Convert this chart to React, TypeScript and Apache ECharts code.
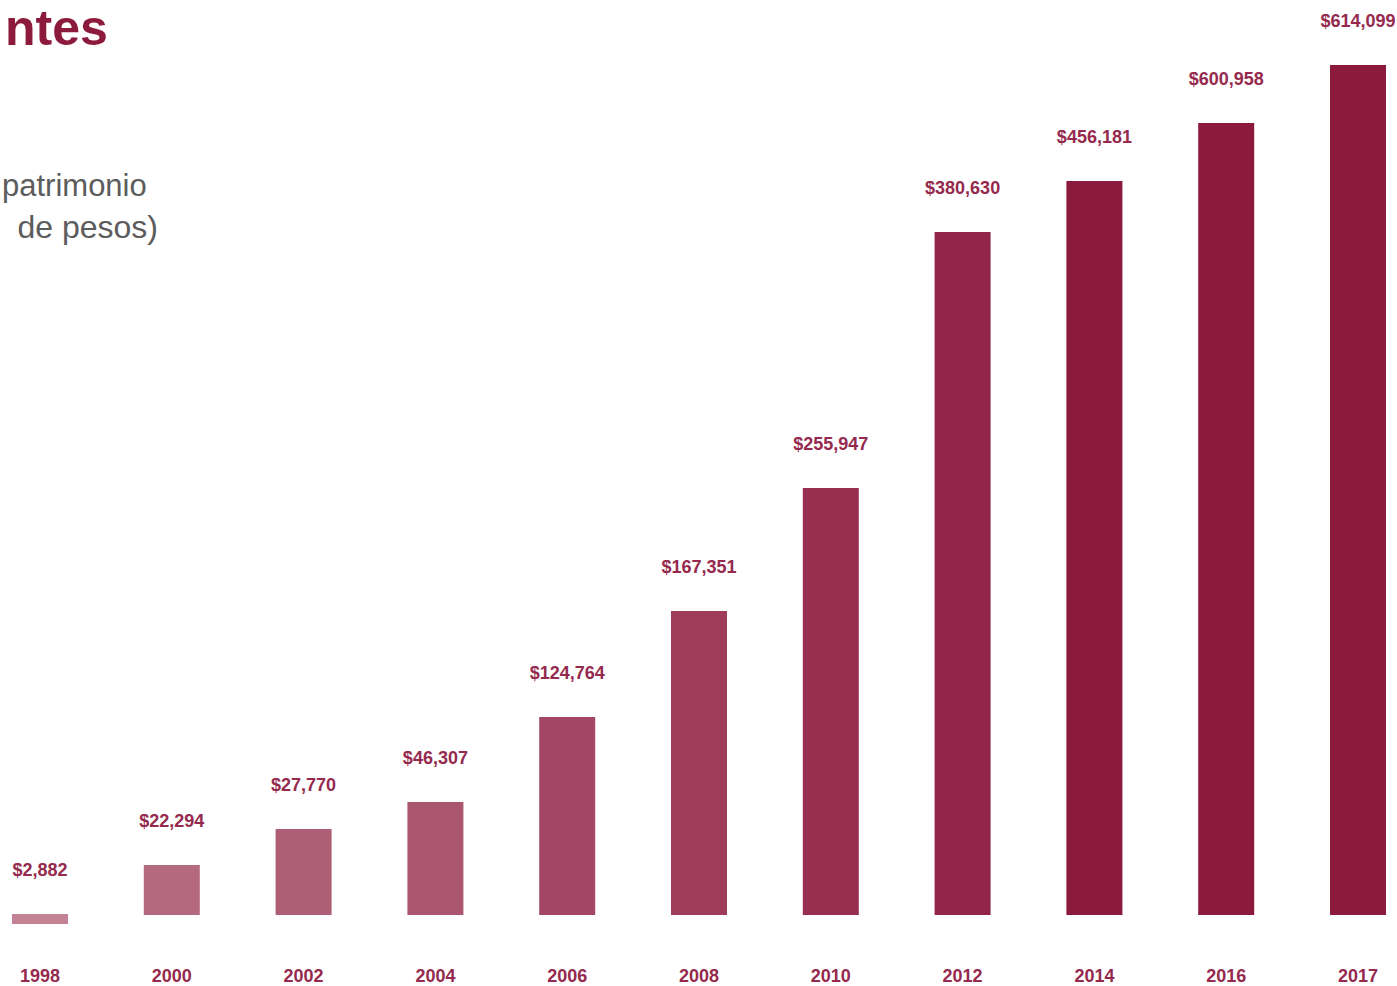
import React, { useEffect, useRef } from "react";
import * as echarts from "echarts";

// Categories (years)
const years = ["1998", "2000", "2002", "2004", "2006", "2008", "2010", "2012", "2014", "2016", "2017"];
// Printed values (millones de pesos)
const patrimonio = [2882, 22294, 27770, 46307, 124764, 167351, 255947, 380630, 456181, 600958, 614099];
// Bar lengths as drawn in the picture (not to scale with the printed values)
const barLength = [10, 50, 86, 113, 198, 304, 427, 683, 734, 792, 850];
// Offset of each bar's foot above the lowest drawn point
const barBase = [0, 9, 9, 9, 9, 9, 9, 9, 9, 9, 9];
const barColors = [
  "#c48394", "#b5697e", "#ae5f76", "#a9566e", "#a34666", "#9e3c5a",
  "#992f50", "#94254a", "#8c1a3c", "#8c1a3c", "#8c1a3c",
];

const LABEL_COLOR = "#952a4e";
const SANS = "'Liberation Sans', Arial, sans-serif";

export default function App() {
  const ref = useRef<HTMLDivElement>(null);

  useEffect(() => {
    if (!ref.current) return;
    const chart = echarts.init(ref.current, undefined, { renderer: "svg" });
    const maxVal = Math.max(...barLength.map((v, i) => v + barBase[i]));
    chart.setOption({
      animation: false,
      backgroundColor: "#ffffff",
      grid: { left: 40, right: 39, top: 65, bottom: 62, outerBoundsMode: "none" },
      xAxis: {
        type: "category",
        data: years,
        boundaryGap: false,
        axisLine: { show: false },
        axisTick: { show: false },
        splitLine: { show: false },
        axisLabel: {
          margin: 43,
          fontFamily: SANS,
          fontWeight: "bold",
          fontSize: 18,
          lineHeight: 18,
          color: LABEL_COLOR,
          interval: 0,
        },
      },
      yAxis: { type: "value", min: 0, max: maxVal, show: false },
      graphic: [
        {
          type: "text",
          style: {
            text: "ntes",
            x: 5,
            y: 3,
            textAlign: "left",
            textVerticalAlign: "top",
            font: "bold 50px " + SANS,
            fill: "#8c1a3c",
          },
        },
        {
          type: "text",
          style: {
            text: "patrimonio",
            x: 2,
            y: 185,
            textAlign: "left",
            textVerticalAlign: "middle",
            font: "31px " + SANS,
            fill: "#5c5c5c",
          },
        },
        {
          type: "text",
          style: {
            text: "de pesos)",
            x: 158,
            y: 227,
            textAlign: "right",
            textVerticalAlign: "middle",
            font: "32px " + SANS,
            fill: "#5c5c5c",
          },
        },
      ],
      series: [
        {
          name: "base",
          type: "bar",
          stack: "a",
          barWidth: 56,
          silent: true,
          itemStyle: { color: "transparent" },
          data: barBase,
        },
        {
          name: "patrimonio",
          type: "bar",
          stack: "a",
          barWidth: 56,
          data: barLength.map((v, i) => ({ value: v, itemStyle: { color: barColors[i] } })),
          label: {
            show: true,
            position: "top",
            distance: 35,
            fontFamily: SANS,
            fontWeight: "bold",
            fontSize: 18,
            color: LABEL_COLOR,
            formatter: (p: any) => "$" + patrimonio[p.dataIndex].toLocaleString("en-US"),
          },
        },
      ],
    });
    return () => chart.dispose();
  }, []);

  return (
    <div
      ref={ref}
      style={{ position: "fixed", left: 0, top: 0, width: 1397, height: 986 }}
    />
  );
}
